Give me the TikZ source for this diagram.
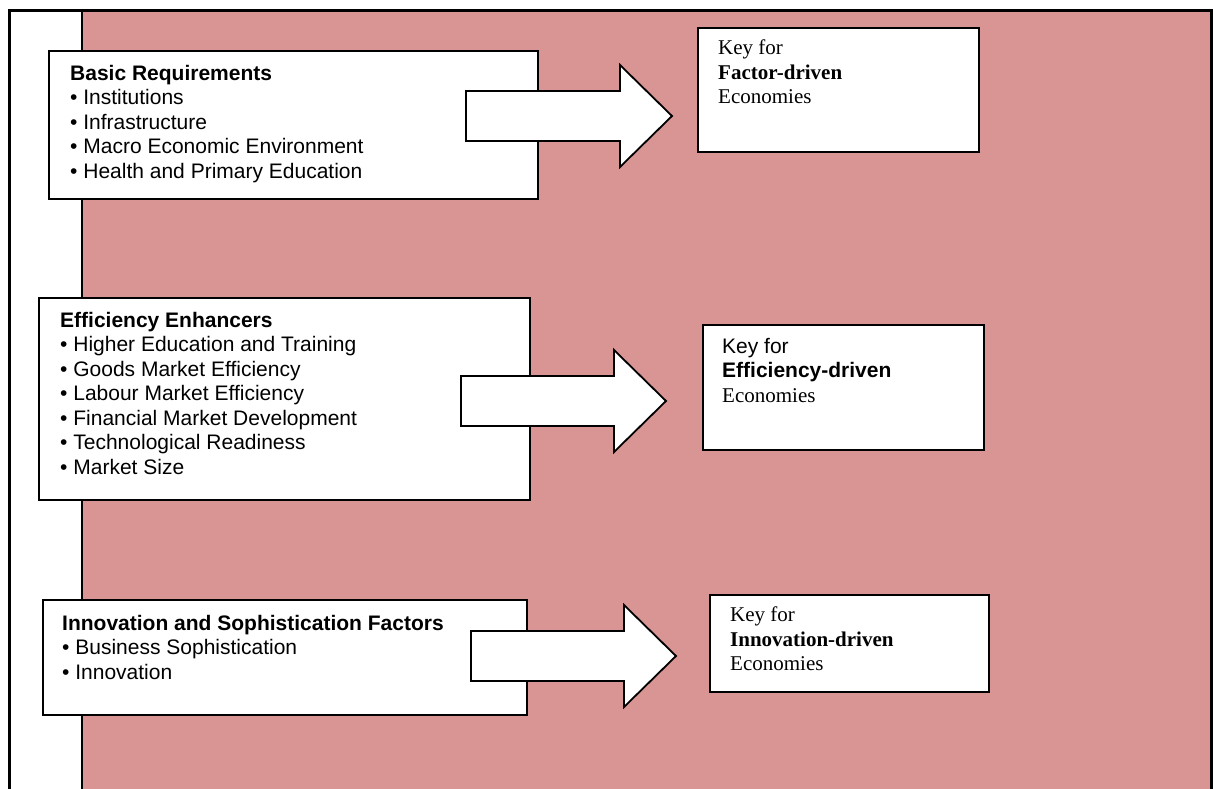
\documentclass[tikz,border=0pt]{standalone}
\usepackage{fontspec}
\setmainfont{Liberation Serif}
\setsansfont{Liberation Sans}
\usepackage{tikz}
\usetikzlibrary{positioning}

\definecolor{keypink}{HTML}{D99594}

\tikzset{
    pillarbox/.style={draw, line width=2pt, fill=white, anchor=north west, inner sep=0pt},
    keybox/.style={draw, line width=2pt, fill=white, anchor=north west, inner sep=0pt},
    pillartext/.style={inner sep=0pt, align=left, font=\sffamily\fontsize{21}{24.5}\selectfont, execute at begin node=\strut},
    keytext/.style={inner sep=0pt, align=left, font=\rmfamily\fontsize{21}{24.5}\selectfont, execute at begin node=\strut},
    blockarrow/.style={draw, fill=white, line width=1.8pt, line join=miter},
}

% tail x, tip x, middle y
\newcommand{\fatarrow}[3]{%
    \draw[blockarrow] (#1,#3-25) -- (#2-52,#3-25) -- (#2-52,#3-51) -- (#2,#3)
        -- (#2-52,#3+51) -- (#2-52,#3+25) -- (#1,#3+25) -- cycle;}

\begin{document}
\begin{tikzpicture}[x=1pt, y=-1pt]
    \useasboundingbox (0,0) rectangle (1213,789);
    % background
    \fill[keypink] (82,11) rectangle (1211,789);
    \draw[line width=2.5pt] (82,789) -- (82,11);
    \draw[line width=3pt] (9,789) |- (1211,11) -- (1211,789);

    % pillars
    \node[pillarbox, minimum width=489pt, minimum height=148pt] (basic) at (48,50) {};
    \node[pillartext, below right=15pt and 22pt of basic.north west] (basictxt)
        {\textbf{Basic Requirements}\\ • Institutions\\ • Infrastructure\\ • Macro Economic Environment\\ • Health and Primary Education};

    \node[pillarbox, minimum width=491pt, minimum height=202pt] (effic) at (38,297) {};
    \node[pillartext, below right=15pt and 22pt of effic.north west] (effictxt)
        {\textbf{Efficiency Enhancers}\\ • Higher Education and Training\\ • Goods Market Efficiency\\ • Labour Market Efficiency\\ • Financial Market Development\\ • Technological Readiness\\ • Market Size};

    \node[pillarbox, minimum width=484pt, minimum height=115pt] (innov) at (42,599) {};
    \node[pillartext, below right=16pt and 20pt of innov.north west] (innovtxt)
        {\textbf{Innovation and Sophistication Factors}\\ • Business Sophistication\\ • Innovation};

    % arrows
    \fatarrow{466}{672}{116}
    \fatarrow{461}{666}{401}
    \fatarrow{471}{676}{656}

    % keys
    \node[keybox, minimum width=281pt, minimum height=124pt] (factorkey) at (697,27) {};
    \node[keytext, below right=13pt and 21pt of factorkey.north west] (factortxt)
        {Key for\\ \textbf{Factor-driven}\\ Economies};

    \node[keybox, minimum width=281pt, minimum height=125pt] (efficey) at (702,324) {};
    \node[keytext, below right=14pt and 20pt of efficey.north west] (efficeytxt)
        {\sffamily Key for\\ \sffamily\bfseries Efficiency-driven\\ Economies};

    \node[keybox, minimum width=279pt, minimum height=97pt] (innovkey) at (709,594) {};
    \node[keytext, below right=13pt and 21pt of innovkey.north west] (innovkeytxt)
        {Key for\\ \textbf{Innovation-driven}\\ Economies};
\end{tikzpicture}
\end{document}
